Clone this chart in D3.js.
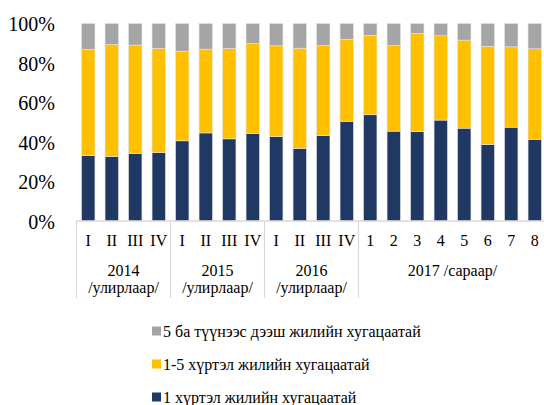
<!DOCTYPE html>
<html>
<head>
<meta charset="utf-8">
<script src="https://cdn.jsdelivr.net/npm/d3@7"></script>
<style>
  body { margin: 0; background: #fff; }
  text { font-family: "Liberation Serif", "Times New Roman", serif; fill: #000; }
</style>
</head>
<body>
<div id="chart"></div>
<script>
// categories (bottom level) and groups (second level)
var categories = ["I", "II", "III", "IV", "I", "II", "III", "IV", "I", "II", "III", "IV",
  "1", "2", "3", "4", "5", "6", "7", "8"];
var groups = [
  { label: ["2014", "/улирлаар/"], count: 4 },
  { label: ["2015", "/улирлаар/"], count: 4 },
  { label: ["2016", "/улирлаар/"], count: 4 },
  { label: ["2017 /сараар/"], count: 8 }
];

// shares in percent
var upTo1 = [33.1, 32.7, 34.1, 34.6, 40.6, 44.6, 41.6, 44.3, 42.7, 36.8, 43.3, 50.5,
  53.8, 45.5, 45.3, 51.1, 47.0, 38.7, 47.5, 41.4];
var from1to5 = [53.8, 56.7, 55.0, 52.8, 45.4, 42.4, 45.8, 45.6, 46.0, 50.7, 45.6, 41.5,
  40.2, 43.4, 49.7, 42.7, 44.6, 49.8, 40.7, 45.8];
var over5 = [13.1, 10.6, 10.9, 12.6, 14.0, 13.0, 12.6, 10.1, 11.3, 12.5, 11.1, 8.0,
  6.0, 11.1, 5.0, 6.2, 8.4, 11.5, 11.8, 12.8];

var yTicks = [0, 20, 40, 60, 80, 100];

var seriesNames = ["1 хүртэл жилийн хугацаатай", "1-5 хүртэл жилийн хугацаатай", "5 ба түүнээс дээш жилийн хугацаатай"];
var colors = ["#203864", "#ffc000", "#a5a5a5"];

var width = 544, height = 405;

var svg = d3.select("#chart").append("svg")
  .attr("width", width)
  .attr("height", height);

var x = d3.scaleBand()
  .domain(d3.range(categories.length))
  .range([76.5, 546.5])
  .paddingInner(0.43)
  .paddingOuter(0.215);

var y = d3.scaleLinear()
  .domain([0, 100])
  .range([221, 23.5]);

// stack the three series
var rows = categories.map(function (c, i) {
  return { i: i, a: upTo1[i], b: from1to5[i], c: over5[i] };
});
var stack = d3.stack().keys(["a", "b", "c"]);
var layers = stack(rows);

svg.selectAll("g.layer")
  .data(layers)
  .enter()
  .append("g")
  .attr("class", "layer")
  .attr("fill", function (d, k) { return colors[k]; })
  .selectAll("rect")
  .data(function (d) { return d; })
  .enter()
  .append("rect")
  .attr("x", function (d) { return x(d.data.i); })
  .attr("width", x.bandwidth())
  .attr("y", function (d) { return y(d[1]); })
  .attr("height", function (d) { return y(d[0]) - y(d[1]); })
  .style("stroke", "#e3e3e3")
  .style("stroke-width", 0.6);

// y axis labels
var yAxis = d3.axisLeft(y)
  .tickValues(yTicks)
  .tickFormat(function (d) { return d + "%"; })
  .tickSize(0)
  .tickPadding(0);

var yg = svg.append("g")
  .attr("transform", "translate(55,0)")
  .call(yAxis);
yg.select(".domain").remove();
yg.selectAll("text")
  .style("font-family", "'Liberation Serif', serif")
  .style("font-size", "20px")
  .attr("dy", "0.35em");

// x axis line
svg.append("line")
  .attr("x1", 76)
  .attr("x2", width)
  .attr("y1", 221)
  .attr("y2", 221)
  .style("stroke", "#d9d9d9")
  .style("stroke-width", 1.5);

// category labels
svg.selectAll("text.cat")
  .data(categories)
  .enter()
  .append("text")
  .attr("class", "cat")
  .attr("x", function (d, i) { return x(i) + x.bandwidth() / 2; })
  .attr("y", 240)
  .attr("dy", "0.35em")
  .attr("text-anchor", "middle")
  .style("font-size", "16px")
  .text(function (d) { return d; });

// group separators and labels
var start = 0;
var step = x.step();
var x0 = x(0) - x.paddingOuter() * step;
var bounds = [];
groups.forEach(function (g) {
  bounds.push({ from: start, to: start + g.count, label: g.label });
  start += g.count;
});

svg.selectAll("line.sep")
  .data(bounds.map(function (b) { return b.from; }))
  .enter()
  .append("line")
  .attr("class", "sep")
  .attr("x1", function (d) { return x0 + d * step; })
  .attr("x2", function (d) { return x0 + d * step; })
  .attr("y1", 221)
  .attr("y2", 298)
  .style("stroke", "#d9d9d9")
  .style("stroke-width", 1.2);

bounds.forEach(function (b) {
  var cx = x0 + (b.from + b.to) / 2 * step;
  b.label.forEach(function (line, k) {
    svg.append("text")
      .attr("x", cx)
      .attr("y", 270 + k * 17)
      .attr("dy", "0.35em")
      .attr("text-anchor", "middle")
      .style("font-size", "16px")
      .text(line);
  });
});

// legend (gray on top, blue at bottom)
var legendY = [331, 364, 397];
var order = [2, 1, 0];
order.forEach(function (k, j) {
  var g = svg.append("g").attr("transform", "translate(152," + legendY[j] + ")");
  g.append("rect")
    .attr("x", 0)
    .attr("y", -4.5)
    .attr("width", 9)
    .attr("height", 9)
    .attr("fill", colors[k]);
  g.append("text")
    .attr("x", 11)
    .attr("dy", "0.35em")
    .style("font-size", "16px")
    .text(seriesNames[k]);
});
</script>
</body>
</html>
